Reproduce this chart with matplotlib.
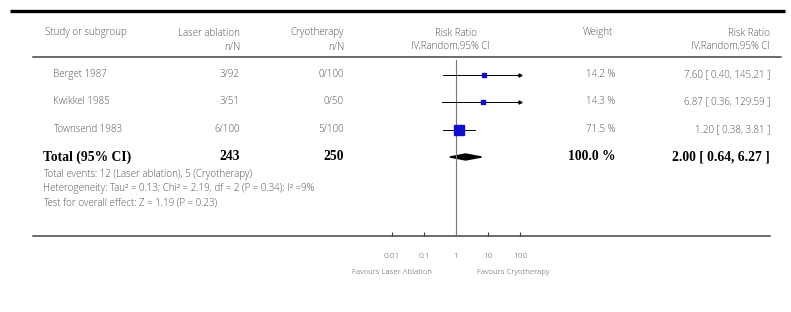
import numpy as np
import matplotlib.pyplot as plt
from matplotlib.patches import Polygon

## DADOS
estudos = ['Berget 1987', 'Kwikkel 1985', 'Townsend 1983']
laser_nN = ['3/92', '3/51', '6/100']
crio_nN = ['0/100', '0/50', '5/100']
rr = [7.60, 6.87, 1.20]
rr_inf = [0.40, 0.36, 0.38]
rr_sup = [145.21, 129.59, 3.81]
peso = [14.2, 14.3, 71.5]

total_laser = 243
total_crio = 250
total_rr, total_inf, total_sup = 2.00, 0.64, 6.27
total_peso = 100.0

rodape = ['Total events: 12 (Laser ablation), 5 (Cryotherapy)',
          'Heterogeneity: Tau² = 0.13; Chi² = 2.19, df = 2 (P = 0.34); I² =9%',
          'Test for overall effect: Z = 1.19 (P = 0.23)']

ticks = [0.01, 0.1, 1, 10, 100]
tick_labels = ['0.01', '0.1', '1', '10', '100']

## ESTILO
W, H = 791, 312
cinza = '#555555'
fonte = 'Open Sans'
peso_fonte = 'light'
fs = 7.0
serif = 'Liberation Serif'

fig = plt.figure(figsize=(W / 100, H / 100), dpi=100)
bg = fig.add_axes([0, 0, 1, 1])
bg.set_xlim(0, W)
bg.set_ylim(H, 0)
bg.axis('off')

def txt(x, y, s, ha='left', **kw):
    kw.setdefault('color', cinza)
    kw.setdefault('fontsize', fs)
    kw.setdefault('family', fonte)
    kw.setdefault('fontweight', peso_fonte)
    bg.text(x, y, s, ha=ha, va='center', **kw)

# linhas horizontais
bg.plot([10, 785], [11, 11], color='black', lw=2.4, solid_capstyle='butt')
bg.plot([33, 781], [56.5, 56.5], color='#444444', lw=1.1)
bg.plot([33, 770], [236, 236], color='#444444', lw=1.1)

# cabeçalho
txt(45, 33, 'Study or subgroup')
txt(240, 33, 'Laser ablation', ha='right')
txt(344, 33, 'Cryotherapy', ha='right')
txt(456, 33, 'Risk Ratio', ha='center')
txt(598, 33, 'Weight', ha='center')
txt(770, 33, 'Risk Ratio', ha='right')
txt(240, 47, 'n/N', ha='right')
txt(344, 47, 'n/N', ha='right')
txt(450, 47, 'IV,Random,95% CI', ha='center')
txt(770, 47, 'IV,Random,95% CI', ha='right')

# linhas dos estudos
linha_y = [74.5, 101.5, 129.5]
for i, y in enumerate(linha_y):
    txt(53, y, estudos[i])
    txt(240, y, laser_nN[i], ha='right')
    txt(344, y, crio_nN[i], ha='right')
    txt(615, y, f'{peso[i]:.1f} %', ha='right')
    txt(770, y, f'{rr[i]:.2f} [ {rr_inf[i]:.2f}, {rr_sup[i]:.2f} ]', ha='right')

# total
y_tot = 157
kb = dict(family=serif, fontweight='bold', fontsize=9.8, color='black')
txt(43, y_tot, 'Total (95% CI)', **kb)
txt(240, y_tot, str(total_laser), ha='right', **kb)
txt(344, y_tot, str(total_crio), ha='right', **kb)
txt(616, y_tot, f'{total_peso:.1f} %', ha='right', **kb)
txt(770, y_tot, f'{total_rr:.2f} [ {total_inf:.2f}, {total_sup:.2f} ]', ha='right', **kb)

for k, s in enumerate(rodape):
    txt(43, 174 + 14.5 * k, s)

## GRÁFICO DE FLORESTA
x0, x1, ytop, ybot = 392, 520, 60, 236
ax = fig.add_axes([x0 / W, 1 - ybot / H, (x1 - x0) / W, (ybot - ytop) / H])
ax.set_xscale('log')
ax.set_xlim(ticks[0], ticks[-1])
ax.set_ylim(ybot, ytop)
ax.patch.set_visible(False)
for s in ax.spines.values():
    s.set_visible(False)
ax.axvline(1, color='#777777', lw=0.8)
ax.set_yticks([])
ax.set_xticks(ticks)
ax.set_xticklabels(tick_labels)
ax.minorticks_off()
ax.tick_params(axis='x', direction='in', length=3, width=0.8, pad=12,
               labelsize=6.0, labelcolor=cinza, color='#444444')
for lab in ax.get_xticklabels():
    lab.set_family(fonte)
    lab.set_fontweight(peso_fonte)

for i, y in enumerate(linha_y):
    a = max(rr_inf[i], ticks[0])
    b = min(rr_sup[i], ticks[-1])
    ax.plot([a, b], [y, y], color='black', lw=0.7)
    if rr_sup[i] > ticks[-1]:
        ax.plot(b, y, marker='>', color='black', ms=2.2, clip_on=False)
    if rr_inf[i] < ticks[0]:
        ax.plot(a, y, marker='<', color='black', ms=2.2, clip_on=False)
    ax.plot(rr[i], y, marker='s', color='#1010cc', mec='#1010cc',
            ms=0.088 * peso[i] + 1.6)

diam = Polygon([[total_inf, y_tot], [total_rr, y_tot - 3], [total_sup, y_tot],
                [total_rr, y_tot + 3]], closed=True, color='black')
ax.add_patch(diam)

for x, s in [(392, 'Favours Laser Ablation'), (513, 'Favours Cryotherapy')]:
    fig.text(x / W, 1 - 273 / H, s, ha='center', va='center',
             fontsize=5.6, color=cinza, family=fonte, fontweight=peso_fonte)

fig.savefig('out.png', dpi=100)
